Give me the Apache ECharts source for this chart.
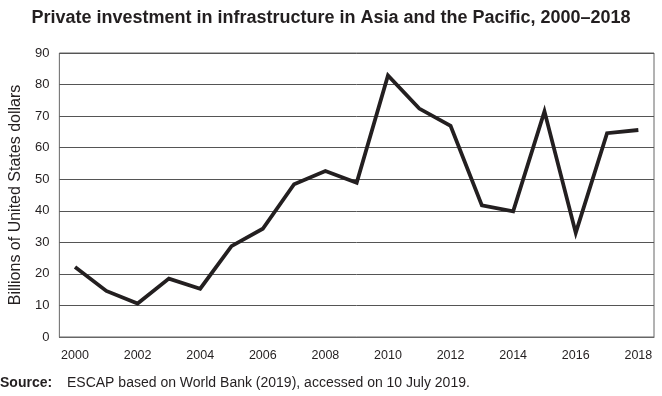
<!DOCTYPE html>
<html><head><meta charset="utf-8">
<script src="https://cdn.jsdelivr.net/npm/echarts@6/dist/echarts.min.js"></script>
<style>html,body{margin:0;padding:0;background:#fff}#c{width:662px;height:396px}</style>
</head><body><div id="c"></div>
<script>
const years = ['2000','2001','2002','2003','2004','2005','2006','2007','2008','2009','2010','2011','2012','2013','2014','2015','2016','2017','2018'];
const investment = [22.2,14.6,10.6,18.5,15.3,28.8,34.3,48.4,52.6,48.9,82.9,72.4,66.9,41.7,39.8,71.5,33.0,64.6,65.6];
const yTicks = [0,10,20,30,40,50,60,70,80,90];
const titleText = 'Private investment in infrastructure in Asia and the Pacific, 2000\u20132018';
const yAxisName = 'Billions of United States dollars';
const sourceLabel = 'Source:';
const sourceText = 'ESCAP based on World Bank (2019), accessed on 10 July 2019.';

const chart = echarts.init(document.getElementById('c'), null, {renderer:'canvas'});
const font = 'Liberation Sans, Arial, sans-serif';
chart.setOption({
  animation:false,
  backgroundColor:'#fff',
  title:{text:titleText,left:'center',top:4,textStyle:{fontFamily:font,fontSize:18,fontWeight:'bold',color:'#231f20'}},
  graphic:[
    {type:'text',left:0,top:376,style:{text:sourceLabel,font:'bold 14px '+font,fill:'#231f20'}},
    {type:'text',left:67,top:376,style:{text:sourceText,font:'14px '+font,fill:'#231f20'}}
  ],
  grid:{left:57,right:8,top:53,bottom:59,show:true,borderColor:'#666',borderWidth:1},
  xAxis:{type:'category',data:years,boundaryGap:true,
    axisLine:{show:true,lineStyle:{color:'#666'}},axisTick:{show:false},
    axisLabel:{interval:1,color:'#231f20',fontFamily:font,fontSize:12.5,margin:12}},
  yAxis:{type:'value',min:yTicks[0],max:yTicks[yTicks.length-1],interval:10,
    name:yAxisName,nameLocation:'middle',nameGap:34,nameRotate:90,
    nameTextStyle:{fontFamily:font,fontSize:16,color:'#231f20'},
    axisLine:{show:false},axisTick:{show:false},
    axisLabel:{color:'#231f20',fontFamily:font,fontSize:13,margin:10},
    splitLine:{lineStyle:{color:'#555',width:1}}},
  series:[{type:'line',data:investment,symbol:'none',lineStyle:{color:'#231f20',width:3.8,join:'miter'}}]
});
</script></body></html>
